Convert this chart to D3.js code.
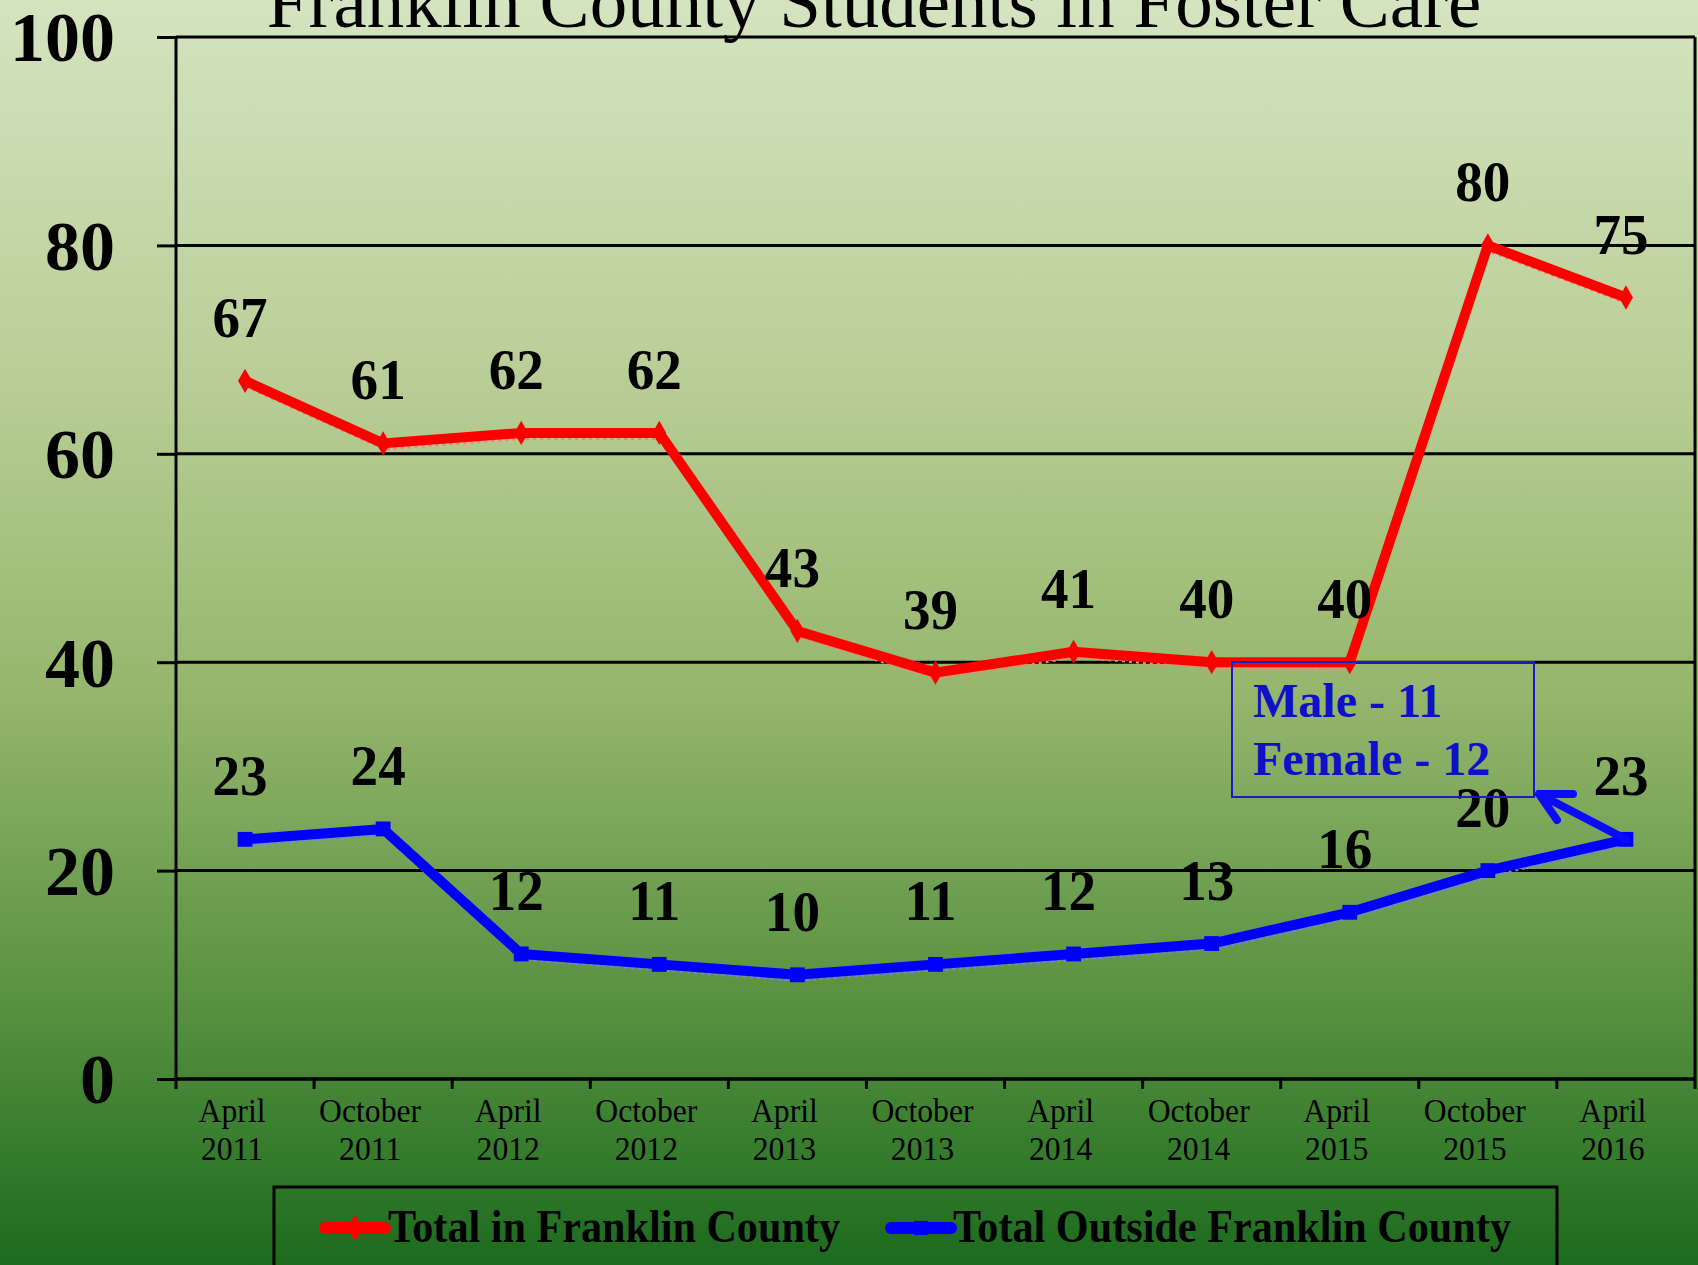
<!DOCTYPE html>
<html>
<head>
<meta charset="utf-8">
<script src="https://cdn.jsdelivr.net/npm/d3@7"></script>
<style>
  body { margin: 0; overflow: hidden; }
  text { font-family: "Liberation Serif", "Times New Roman", serif; }
</style>
</head>
<body>
<script>
// Chart data
var categories = ["April 2011", "October 2011", "April 2012", "October 2012", "April 2013",
    "October 2013", "April 2014", "October 2014", "April 2015", "October 2015", "April 2016"];
var insideCounty = [67, 61, 62, 62, 43, 39, 41, 40, 40, 80, 75];
var outsideCounty = [23, 24, 12, 11, 10, 11, 12, 13, 16, 20, 23];
var yTicks = [0, 20, 40, 60, 80, 100];
var seriesNames = ["Total in Franklin County", "Total Outside Franklin County"];
var noteLines = ["Male - 11", "Female - 12"];
var title = "Franklin County Students in Foster Care";

// Canvas size
var width = 1698;
var height = 1265;
var plotLeft = 176, plotRight = 1695, plotTop = 37, plotBottom = 1079;

var svg = d3.select("body")
    .append("svg")
    .attr("width", width)
    .attr("height", height);

// squeeze text horizontally like the original export
function squeeze(sel, k) {
    sel.each(function () {
        var len = this.getComputedTextLength();
        d3.select(this).attr("textLength", len * k).attr("lengthAdjust", "spacingAndGlyphs");
    });
}

// Background gradient
var grad = svg.append("defs").append("linearGradient")
    .attr("id", "bg")
    .attr("x1", 0).attr("y1", 0).attr("x2", 0).attr("y2", 1);
[["0", "#d4e4c0"], ["0.3", "#b9ce96"], ["0.55", "#95b66c"], ["0.8", "#56903f"], ["1", "#1c6b1e"]]
    .forEach(function (s) {
        grad.append("stop").attr("offset", s[0]).attr("stop-color", s[1]);
    });
svg.append("rect")
    .attr("width", width)
    .attr("height", height)
    .attr("fill", "url(#bg)");

// Scales
var x = d3.scaleBand().domain(categories).range([plotLeft, plotRight]);
var y = d3.scaleLinear().domain([0, 100]).range([plotBottom, plotTop]);
var cx = function (c) { return x(c) + x.bandwidth() / 2; };

// Grid lines
svg.append("g")
    .selectAll("line")
    .data(yTicks)
    .enter()
    .append("line")
    .attr("x1", plotLeft)
    .attr("x2", plotRight)
    .attr("y1", function (d) { return y(d); })
    .attr("y2", function (d) { return y(d); })
    .attr("stroke", "#000")
    .attr("stroke-width", 3);

// Right border
svg.append("line")
    .attr("x1", plotRight).attr("x2", plotRight)
    .attr("y1", plotTop).attr("y2", plotBottom)
    .attr("stroke", "#000").attr("stroke-width", 3);

// Y axis
var yAxis = svg.append("g")
    .attr("transform", "translate(" + plotLeft + ",0)")
    .call(d3.axisLeft(y).tickValues(yTicks).tickSize(19).tickPadding(42));
yAxis.select(".domain").attr("stroke-width", 3).attr("d", "M0," + plotTop + "V" + (plotBottom + 10));
yAxis.selectAll(".tick line").attr("stroke-width", 3);
yAxis.selectAll("text")
    .attr("font-size", 70)
    .attr("font-weight", "bold")
    .attr("fill", "#000")
    .attr("dy", "0.34em");

// X axis
var xAxis = svg.append("g")
    .attr("transform", "translate(0," + plotBottom + ")")
    .call(d3.axisBottom(x).tickSize(0).tickPadding(0));
xAxis.select(".domain").attr("stroke-width", 3).attr("d", "M" + plotLeft + ",0H" + plotRight);
xAxis.selectAll("text").remove();
xAxis.selectAll(".tick")
    .append("text")
    .attr("fill", "#000")
    .attr("font-size", 33)
    .attr("text-anchor", "middle")
    .each(function (d) {
        var parts = d.split(" ");
        var t = d3.select(this);
        t.append("tspan").attr("x", -13).attr("y", 43).text(parts[0]);
        t.append("tspan").attr("x", -13).attr("y", 81).text(parts[1]);
    })
    .selectAll("tspan")
    .call(squeeze, 0.96);

// Tick marks on category boundaries
svg.append("g")
    .selectAll("line")
    .data(categories.slice(1).concat([null]))
    .enter()
    .append("line")
    .attr("x1", function (d) { return d ? x(d) : plotRight; })
    .attr("x2", function (d) { return d ? x(d) : plotRight; })
    .attr("y1", plotBottom)
    .attr("y2", plotBottom + 10)
    .attr("stroke", "#000")
    .attr("stroke-width", 3);

// Title
svg.append("text")
    .attr("x", 874)
    .attr("y", 27)
    .attr("text-anchor", "middle")
    .attr("font-size", 75)
    .attr("fill", "#000")
    .text(title);

// Lines
var line = d3.line()
    .x(function (d, i) { return cx(categories[i]); })
    .y(function (d) { return y(d); });

var series = [
    { values: insideCounty, color: "#ff0000", light: "#ff7a7a", marker: "diamond" },
    { values: outsideCounty, color: "#0000ff", light: "#7a7aff", marker: "square" }
];

series.forEach(function (s) {
    var g = svg.append("g");
    g.append("path")
        .attr("d", line(s.values))
        .attr("fill", "none")
        .attr("stroke", s.light)
        .attr("stroke-width", 4)
        .attr("stroke-dasharray", "3,4")
        .attr("transform", "translate(1,5)");
    g.append("path")
        .attr("d", line(s.values))
        .attr("fill", "none")
        .attr("stroke", s.color)
        .attr("stroke-width", 10)
        .attr("stroke-linejoin", "round");
    g.selectAll("path.pt")
        .data(s.values)
        .enter()
        .append("path")
        .attr("class", "pt")
        .attr("d", d3.symbol().type(s.marker == "diamond" ? d3.symbolDiamond : d3.symbolSquare).size(s.marker == "diamond" ? 170 : 220))
        .attr("transform", function (d, i) { return "translate(" + cx(categories[i]) + "," + y(d) + ")"; })
        .attr("fill", s.color);

    // value labels
    g.selectAll("text")
        .data(s.values)
        .enter()
        .append("text")
        .attr("x", function (d, i) { return cx(categories[i]) - 5; })
        .attr("y", function (d) { return y(d) - 44; })
        .attr("text-anchor", "middle")
        .attr("font-size", 58)
        .attr("font-weight", "bold")
        .attr("fill", "#000")
        .text(function (d) { return d; })
        .call(squeeze, 0.95);
});

// Annotation box with arrow
var note = svg.append("g");
note.append("rect")
    .attr("x", 1232).attr("y", 662)
    .attr("width", 302).attr("height", 135)
    .attr("fill", "none")
    .attr("stroke", "#1a1acc")
    .attr("stroke-width", 2);
note.selectAll("text")
    .data(noteLines)
    .enter()
    .append("text")
    .attr("x", 1253)
    .attr("y", function (d, i) { return 717 + i * 58; })
    .attr("font-size", 48)
    .attr("font-weight", "bold")
    .attr("fill", "#1010c8")
    .text(function (d) { return d; });

var last = categories.length - 1;
var ax = cx(categories[last]), ay = y(outsideCounty[last]);
note.append("path")
    .attr("d", "M" + ax + "," + ay + "L1539,794M1573,794L1539,794L1557,820")
    .attr("fill", "none")
    .attr("stroke", "#0a0aff")
    .attr("stroke-width", 8)
    .attr("stroke-linecap", "round")
    .attr("stroke-linejoin", "round");

// Legend
var legend = svg.append("g");
legend.append("rect")
    .attr("x", 274).attr("y", 1187)
    .attr("width", 1283).attr("height", 140)
    .attr("fill", "none")
    .attr("stroke", "#000")
    .attr("stroke-width", 3);

var legendItems = [
    { x: 325, textX: 388, w: 452 },
    { x: 891, textX: 953, w: 558 }
];
legendItems.forEach(function (it, i) {
    var s = series[i];
    legend.append("line")
        .attr("x1", it.x).attr("x2", it.x + 60)
        .attr("y1", 1228).attr("y2", 1228)
        .attr("stroke", s.color)
        .attr("stroke-width", 12)
        .attr("stroke-linecap", "round");
    legend.append("path")
        .attr("d", d3.symbol().type(s.marker == "diamond" ? d3.symbolDiamond : d3.symbolSquare).size(200))
        .attr("transform", "translate(" + (it.x + 30) + ",1228)")
        .attr("fill", s.color);
    legend.append("text")
        .attr("x", it.textX)
        .attr("y", 1242)
        .attr("font-size", 46)
        .attr("font-weight", "bold")
        .attr("fill", "#000")
        .attr("textLength", it.w)
        .attr("lengthAdjust", "spacingAndGlyphs")
        .text(seriesNames[i]);
});
</script>
</body>
</html>
